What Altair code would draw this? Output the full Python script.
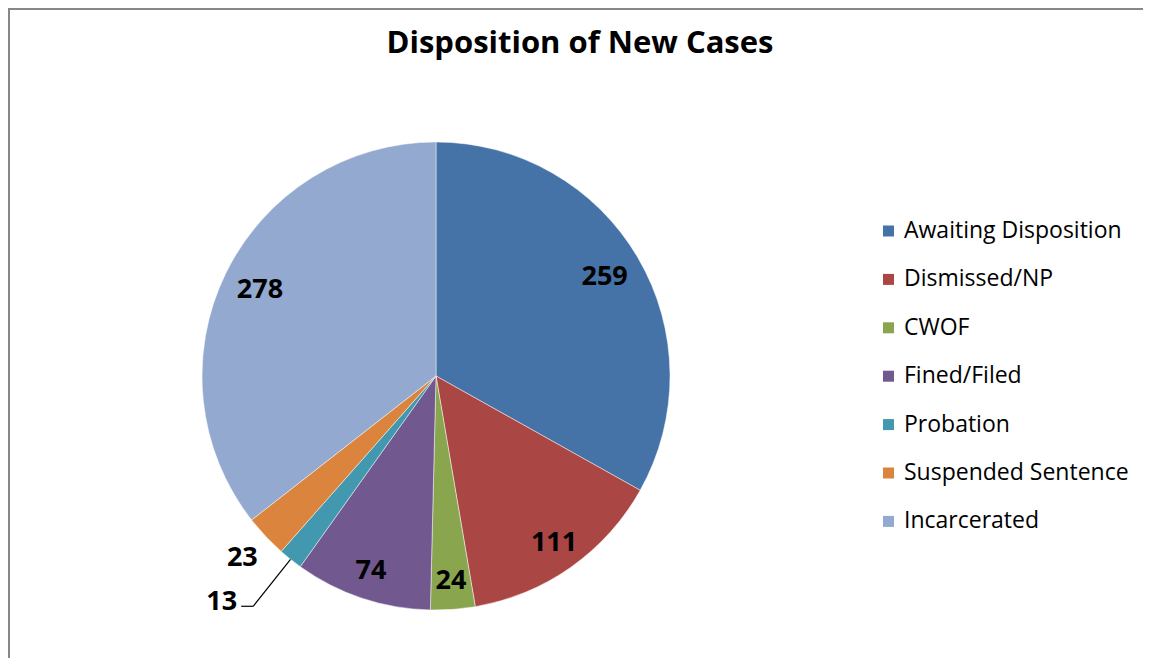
import altair as alt
import pandas as pd

title_text = "Disposition of New Cases"
categories = ["Awaiting Disposition", "Dismissed/NP", "CWOF", "Fined/Filed",
              "Probation", "Suspended Sentence", "Incarcerated"]
values = [259, 111, 24, 74, 13, 23, 278]
colors = ["#4572A7", "#AA4643", "#89A54E", "#71588F", "#4198AF", "#DB843D", "#93A9CF"]

df = pd.DataFrame({"cat": categories, "value": values, "idx": list(range(len(values)))})

W, H = 1135, 650
CX, CY, R = 428, 368, 234
FONT = "Open Sans"

base = alt.Chart(df)

pie = base.mark_arc(radius=R, stroke="white", strokeWidth=0.8, strokeOpacity=0.6).encode(
    x=alt.value(CX), y=alt.value(CY),
    theta=alt.Theta("value:Q", stack=True),
    order=alt.Order("idx:Q"),
    color=alt.Color("cat:N", scale=alt.Scale(domain=categories, range=colors),
                    sort=categories,
                    legend=alt.Legend(title=None, orient="none", legendX=869, legendY=211.5,
                                      symbolType="square", symbolSize=121,
                                      symbolStrokeWidth=0, labelFont=FONT,
                                      labelFontSize=23, labelColor="#000000",
                                      labelOffset=4, rowPadding=24.4, padding=0,
                                      labelLimit=400)),
)

pos = base.transform_window(
    cum="sum(value)", sort=[alt.SortField("idx")]
).transform_joinaggregate(
    total="sum(value)"
).transform_calculate(
    mid="(datum.cum - datum.value/2) / datum.total * 2 * PI"
)

labels = pos.transform_filter(
    "datum.cat != 'Probation'"
).transform_calculate(
    lr="datum.cat == 'Suspended Sentence' ? 266 : 199 - 7 * cos(datum.mid)"
).transform_calculate(
    lx=f"{CX} + datum.lr * sin(datum.mid)",
    ly=f"{CY} - datum.lr * cos(datum.mid)",
).mark_text(font=FONT, fontSize=27, fontWeight="bold", color="#000000",
            align="center", baseline="middle").encode(
    x=alt.X("lx:Q", scale=None), y=alt.Y("ly:Q", scale=None), text="value:Q"
)

lead = pos.transform_filter("datum.cat == 'Probation'").transform_calculate(
    x1=f"{CX} + {R} * sin(datum.mid)",
    y1=f"{CY} - {R} * cos(datum.mid)",
    x2=f"{CX} + 294 * sin(datum.mid)",
    y2=f"{CY} - 294 * cos(datum.mid)",
).transform_calculate(x3="datum.x2 - 12")

lead1 = lead.mark_rule(color="#000000", strokeWidth=1.2).encode(
    x=alt.X("x1:Q", scale=None), y=alt.Y("y1:Q", scale=None),
    x2="x2:Q", y2="y2:Q")
lead2 = lead.mark_rule(color="#000000", strokeWidth=1.2).encode(
    x=alt.X("x2:Q", scale=None), y=alt.Y("y2:Q", scale=None),
    x2="x3:Q", y2="y2:Q")
lead_label = lead.mark_text(font=FONT, fontSize=27, fontWeight="bold", color="#000000",
                            align="right", baseline="alphabetic", dx=-4, dy=4).encode(
    x=alt.X("x3:Q", scale=None), y=alt.Y("y2:Q", scale=None), text="value:Q")

title = alt.Chart(pd.DataFrame({"t": [title_text]})).mark_text(
    font=FONT, fontSize=31, fontWeight="bold", color="#000000",
    align="center", baseline="alphabetic").encode(
    text="t:N", x=alt.value(572), y=alt.value(45))

frame = alt.Chart(pd.DataFrame({"t": [0]}))
border_left = frame.mark_rule(color="#878787", strokeWidth=2).encode(
    x=alt.value(1), y=alt.value(0), y2=alt.value(H))
border_top = frame.mark_rule(color="#878787", strokeWidth=2).encode(
    x=alt.value(0), x2=alt.value(W), y=alt.value(1))

chart = alt.layer(border_left, border_top, pie, labels, lead1, lead2, lead_label, title).properties(
    width=W, height=H,
    autosize=alt.AutoSizeParams(type="none"),
    padding=0,
    background="white",
).configure_view(stroke=None)

chart.save("out.html", embed_options={"renderer": "svg", "actions": False})
